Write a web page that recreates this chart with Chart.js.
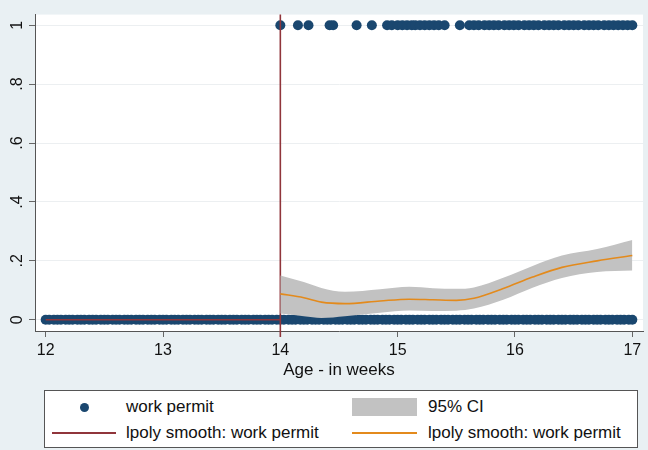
<!DOCTYPE html>
<html>
<head>
<meta charset="utf-8">
<script src="https://cdn.jsdelivr.net/npm/chart.js@4.4.1/dist/chart.umd.min.js"></script>
<style>
  html, body { margin: 0; padding: 0; background: #e9f0f3; }
  #wrap { position: relative; width: 648px; height: 450px; overflow: hidden; }
  #c { position: absolute; left: 0; top: 0; }
  #legend { position: absolute; left: 44px; top: 390px; width: 594px; height: 58px; box-sizing: border-box;
            border: 1px solid #555; background: #fff; font-family: "Liberation Sans", Arial, sans-serif; font-size: 17px; color: #111; }
  #legend .t { position: absolute; line-height: 20px; white-space: nowrap; }
  #legend .sw { position: absolute; }
</style>
</head>
<body>
<div id="wrap">
  <canvas id="c" width="648" height="450"></canvas>
  <div id="legend"></div>
</div>
<script>
// ---- data ----
const xTicks = [12, 13, 14, 15, 16, 17];
const yTicks = [0, 0.2, 0.4, 0.6, 0.8, 1];
const yTickLabels = ["0", ".2", ".4", ".6", ".8", "1"];
const xTitle = "Age - in weeks";
const legendLabels = ["work permit", "95% CI", "lpoly smooth: work permit", "lpoly smooth: work permit"];

// ages of observations with work permit = 1
const permitOneAges = [14.0, 14.15, 14.24, 14.42, 14.45, 14.65, 14.78,
  14.91, 14.95, 15.0, 15.04, 15.08, 15.12, 15.15, 15.19, 15.23, 15.27, 15.31, 15.35, 15.40,
  15.53,
  15.61, 15.65, 15.69, 15.74, 15.78, 15.82, 15.86, 15.91, 15.95, 15.99, 16.03, 16.08, 16.12, 16.16,
  16.2, 16.25, 16.29, 16.33, 16.37, 16.42, 16.46, 16.5, 16.54, 16.59, 16.63, 16.67, 16.71, 16.76,
  16.8, 16.84, 16.88, 16.92, 16.96, 17.0];
// ages of observations with work permit = 0
const permitZeroAges = [12.0, 12.03, 12.07, 12.1, 12.13, 12.17, 12.2, 12.23, 12.27, 12.3, 12.33, 12.37, 12.4,
  12.43, 12.47, 12.5, 12.53, 12.57, 12.6, 12.63, 12.67, 12.7, 12.73, 12.77, 12.8, 12.83, 12.87, 12.9,
  12.93, 12.97, 13.0, 13.03, 13.07, 13.1, 13.13, 13.17, 13.2, 13.23, 13.27, 13.3, 13.33, 13.37, 13.4,
  13.43, 13.47, 13.5, 13.53, 13.57, 13.6, 13.63, 13.67, 13.7, 13.73, 13.77, 13.8, 13.83, 13.87, 13.9,
  13.93, 13.97, 14.0, 14.03, 14.07, 14.1, 14.13, 14.17, 14.2, 14.23, 14.27, 14.3, 14.33, 14.37, 14.4,
  14.43, 14.47, 14.5, 14.53, 14.57, 14.6, 14.63, 14.67, 14.7, 14.73, 14.77, 14.8, 14.83, 14.87, 14.9,
  14.93, 14.97, 15.0, 15.03, 15.07, 15.1, 15.13, 15.17, 15.2, 15.23, 15.27, 15.3, 15.33, 15.37, 15.4,
  15.43, 15.47, 15.5, 15.53, 15.57, 15.6, 15.63, 15.67, 15.7, 15.73, 15.77, 15.8, 15.83, 15.87, 15.9,
  15.93, 15.97, 16.0, 16.03, 16.07, 16.1, 16.13, 16.17, 16.2, 16.23, 16.27, 16.3, 16.33, 16.37, 16.4,
  16.43, 16.47, 16.5, 16.53, 16.57, 16.6, 16.63, 16.67, 16.7, 16.73, 16.77, 16.8, 16.83, 16.87, 16.9,
  16.93, 16.97, 17.0];

// left lpoly smooth (below cutoff) and its vertical jump at 14
const leftSmoothX = [12, 14, 14, 14];
const leftSmoothY = [0, 0, -0.058, 1.036];

// right lpoly smooth with 95% CI
const rightSmoothX = [14.0, 14.2, 14.35, 14.55, 14.85, 15.1, 15.3, 15.5, 15.65, 15.9, 16.15, 16.4, 16.7, 17.0];
const rightSmoothY = [0.088, 0.075, 0.060, 0.055, 0.064, 0.070, 0.068, 0.066, 0.073, 0.106, 0.145, 0.178, 0.200, 0.218];
const ciUpper      = [0.150, 0.128, 0.108, 0.095, 0.104, 0.112, 0.107, 0.105, 0.110, 0.143, 0.183, 0.218, 0.240, 0.271];
const ciLower      = [0.021, 0.012, 0.006, 0.012, 0.024, 0.032, 0.030, 0.031, 0.038, 0.068, 0.109, 0.142, 0.162, 0.167];

// ---- styles ----
const NAVY = "#1a476f", MAROON = "#90353b", ORANGE = "#e38a1c", CIGRAY = "#c2c2c2";
const FONT = "'Liberation Sans', Arial, sans-serif";

const pts = (xs, ys) => xs.map((x, i) => ({x: x, y: ys[i]}));
const flat = (xs, v) => xs.map(x => ({x: x, y: v}));

const plotBg = {
  id: "plotBg",
  beforeDraw(chart) {
    const {ctx, chartArea: a} = chart;
    ctx.save();
    ctx.fillStyle = "#ffffff";
    ctx.fillRect(a.left, a.top, a.right - a.left, a.bottom - a.top);
    ctx.restore();
  }
};

new Chart(document.getElementById("c"), {
  type: "line",
  data: {
    datasets: [
      { label: legendLabels[3], data: pts(rightSmoothX, rightSmoothY), borderColor: ORANGE, borderWidth: 1.6,
        pointRadius: 0, fill: false, cubicInterpolationMode: "monotone" },
      { label: legendLabels[1], data: pts(rightSmoothX, ciUpper), borderWidth: 0, borderColor: "rgba(0,0,0,0)",
        backgroundColor: CIGRAY, pointRadius: 0, fill: "+1", cubicInterpolationMode: "monotone" },
      { label: legendLabels[1] + " lower", data: pts(rightSmoothX, ciLower), borderWidth: 0, borderColor: "rgba(0,0,0,0)",
        pointRadius: 0, fill: false, cubicInterpolationMode: "monotone" },
      { label: legendLabels[2], data: pts(leftSmoothX, leftSmoothY), borderColor: MAROON, borderWidth: 1.6,
        pointRadius: 0, fill: false, tension: 0, clip: false },
      { label: legendLabels[0], data: flat(permitOneAges, 1), showLine: false, pointRadius: 5,
        pointBackgroundColor: NAVY, pointBorderWidth: 0, borderColor: NAVY },
      { label: legendLabels[0] + " 0", data: flat(permitZeroAges, 0), showLine: false, pointRadius: 5,
        pointBackgroundColor: NAVY, pointBorderWidth: 0, borderColor: NAVY }
    ]
  },
  options: {
    responsive: false,
    animation: false,
    devicePixelRatio: 1,
    layout: { padding: { left: 0, top: 3, right: 2, bottom: 69 } },
    plugins: { legend: { display: false }, tooltip: { enabled: false } },
    scales: {
      x: {
        type: "linear", min: 11.909, max: 17.091,
        afterBuildTicks: (s) => { s.ticks = xTicks.map(v => ({value: v})); },
        afterFit: (s) => { s.height = 50; },
        ticks: { font: { family: FONT, size: 16 }, color: "#111", padding: 4, callback: (v) => String(v) },
        grid: { drawOnChartArea: false, tickLength: 6, tickColor: "#666", tickWidth: 1 },
        border: { display: true, color: "#555", width: 1 },
        title: { display: true, text: xTitle, font: { family: FONT, size: 17 }, color: "#111", padding: { top: 0, bottom: 0 } }
      },
      y: {
        type: "linear", min: -0.038, max: 1.036,
        afterBuildTicks: (s) => { s.ticks = yTicks.map(v => ({value: v})); },
        afterFit: (s) => { s.width = 35; },
        ticks: { font: { family: FONT, size: 16 }, color: "#111", padding: 5, minRotation: 90, maxRotation: 90,
                 crossAlign: "center",
                 callback: (v) => { const i = yTicks.indexOf(v); return i >= 0 ? yTickLabels[i] : ""; } },
        grid: { color: "#eceff1", lineWidth: 1, tickLength: 6, tickColor: "#666", tickWidth: 1 },
        border: { display: true, color: "#555", width: 1 }
      }
    }
  },
  plugins: [plotBg]
});

// ---- legend (HTML text) ----
const lg = document.getElementById("legend");
function add(html) { lg.insertAdjacentHTML("beforeend", html); }
const r1 = 16, r2 = 42; // row centres inside the box
add(`<div class="sw" style="left:35px;top:${r1-4.5}px;width:9px;height:9px;border-radius:50%;background:${NAVY}"></div>`);
add(`<div class="t" style="left:81px;top:${r1-10}px">${legendLabels[0]}</div>`);
add(`<div class="sw" style="left:307px;top:${r1-9}px;width:65px;height:18px;background:${CIGRAY}"></div>`);
add(`<div class="t" style="left:383px;top:${r1-10}px">${legendLabels[1]}</div>`);
add(`<div class="sw" style="left:7px;top:${r2-1}px;width:64px;height:1.6px;background:${MAROON}"></div>`);
add(`<div class="t" style="left:81px;top:${r2-10}px">${legendLabels[2]}</div>`);
add(`<div class="sw" style="left:307px;top:${r2-1}px;width:65px;height:1.6px;background:${ORANGE}"></div>`);
add(`<div class="t" style="left:383px;top:${r2-10}px">${legendLabels[3]}</div>`);
</script>
</body>
</html>
